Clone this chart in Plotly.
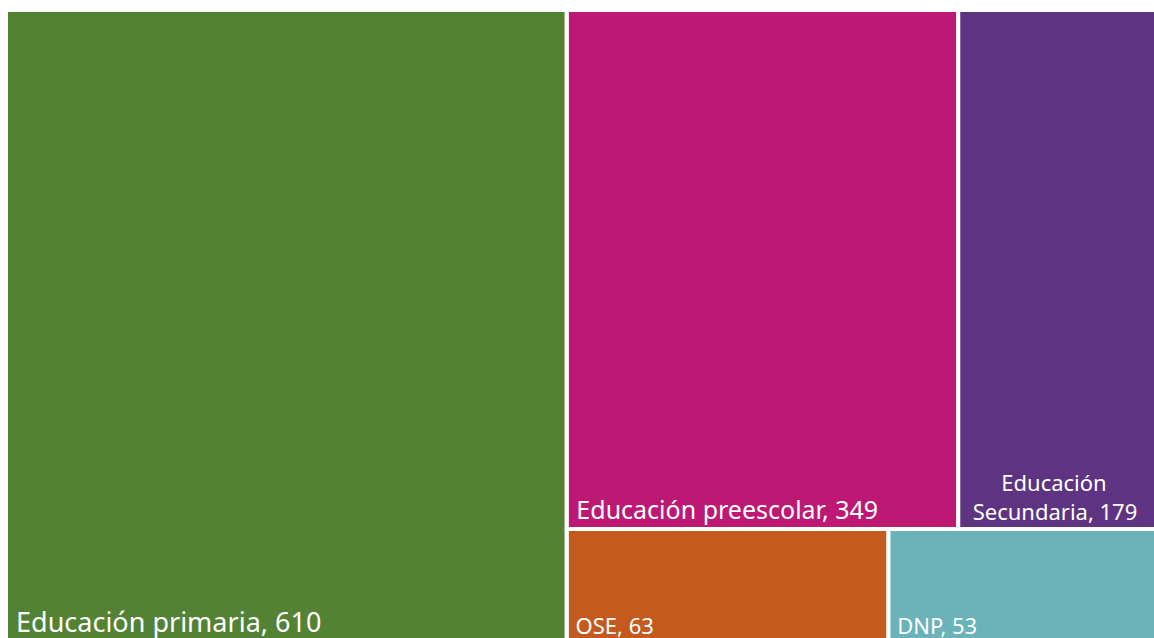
import plotly.graph_objects as go

# leaves
categories = ["Educación primaria", "Educación preescolar", "Educación Secundaria", "OSE", "DNP"]
values = [610, 349, 179, 63, 53]
groups = ["total", "arriba", "arriba", "abajo", "abajo"]
colors = ["#548235", "#BC1874", "#5E3482", "#C55A1E", "#6BB3B8"]
font_sizes = [27, 25, 22, 22, 22]
label_lines = [
    [" Educación primaria, 610"],
    [" Educación preescolar, 349"],
    ["       Educación", "  Secundaria, 179"],
    [" OSE, 63"],
    [" DNP, 53"],
]

ids, parents, vals, tile_colors, texts = [], [], [], [], []


def add_node(node_id, parent, value, color, text):
    ids.append(node_id)
    parents.append(parent)
    vals.append(value)
    tile_colors.append(color)
    texts.append(text)


def leaf_text(i):
    return "<span style='font-size:%dpx'>%s</span>" % (font_sizes[i], "<br>".join(label_lines[i]))


# invisible grouping levels so the tiles stack like the original;
# order matters (sort is off): primary first, then the right-hand block
add_node("total", "", 0, "white", "")
for i, g in enumerate(groups):
    if g == "total":
        add_node(categories[i], g, values[i], colors[i], leaf_text(i))
add_node("derecha", "total", 0, "white", "")
for g in ["arriba", "abajo"]:
    add_node(g, "derecha", 0, "white", "")
    for i, gg in enumerate(groups):
        if gg == g:
            add_node(categories[i], g, values[i], colors[i], leaf_text(i))

fig = go.Figure(go.Treemap(
    ids=ids,
    labels=ids,
    parents=parents,
    values=vals,
    text=texts,
    texttemplate="%{text}",
    textposition="bottom left",
    textfont=dict(family="Noto Sans", color="white", size=22),
    marker=dict(colors=tile_colors, line=dict(color="white", width=4),
                pad=dict(t=0, l=0, r=0, b=0)),
    tiling=dict(packing="slice-dice", pad=0),
    pathbar=dict(visible=False),
    sort=False,
    hoverinfo="label+value",
))

# slightly larger than the window: the original is cropped at right and bottom
fig.update_layout(
    width=1159, height=643,
    margin=dict(l=6, r=0, t=10, b=0),
    paper_bgcolor="white",
)

fig.write_html(
    "out.html",
    config={"displayModeBar": False},
    post_script="document.body.style.margin='0';document.body.style.overflow='hidden';"
                "window.dispatchEvent(new Event('resize'));",
)
